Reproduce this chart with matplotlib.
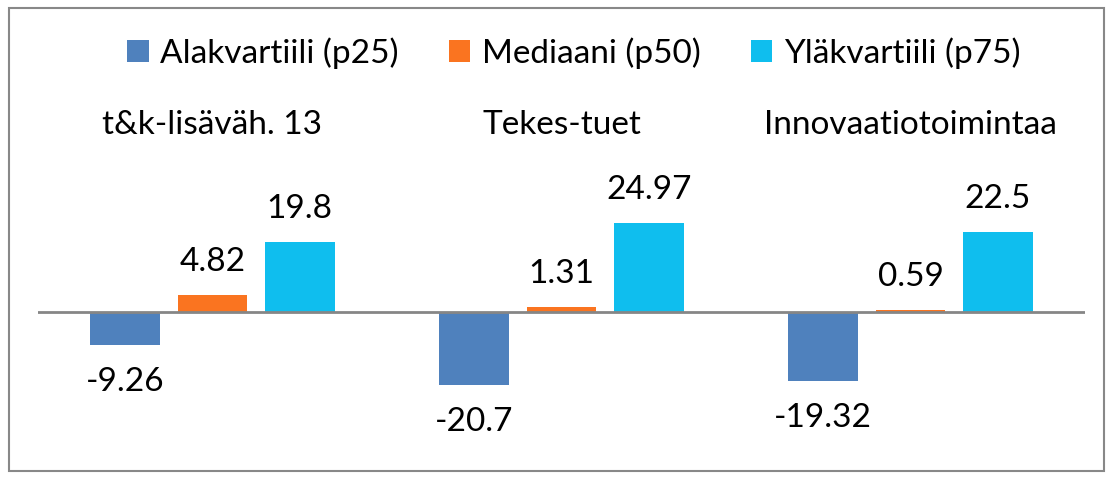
import numpy as np
import matplotlib.pyplot as plt
from matplotlib.patches import Rectangle
import matplotlib.transforms as mtransforms

plt.rcParams['font.family'] = ['Lato', 'DejaVu Sans']

categories = ["t&k-lisäväh. 13", "Tekes-tuet", "Innovaatiotoimintaa"]
series_names = ["Alakvartiili (p25)", "Mediaani (p50)", "Yläkvartiili (p75)"]
p25 = [-9.26, -20.7, -19.32]
p50 = [4.82, 1.31, 0.59]
p75 = [19.8, 24.97, 22.5]
value_labels = [["-9.26", "-20.7", "-19.32"],
                ["4.82", "1.31", "0.59"],
                ["19.8", "24.97", "22.5"]]
colors = ["#4F81BD", "#FA7420", "#0FBEEE"]

fig = plt.figure(figsize=(11.14, 4.8), dpi=100)
# plot area: x 38..1085 px, zero line at ~312 px, 60 units over ~213 px
ax = fig.add_axes([38 / 1114, 1 - 418.5 / 480, 1047 / 1114, 213 / 480])

x = np.arange(len(categories))
width = 0.2
step = 0.25
for i, (vals, col, name) in enumerate(zip([p25, p50, p75], colors, series_names)):
    pos = x + (i - 1) * step
    bars = ax.bar(pos, vals, width, color=col, label=name, zorder=2)
    for b, v, lab in zip(bars, vals, value_labels[i]):
        off = 33 if v >= 0 else -37
        ax.annotate(lab, (b.get_x() + b.get_width() / 2, v),
                    xytext=(0, off), textcoords="offset pixels",
                    ha="center", va="center", fontsize=24, color="black")

ax.axhline(0, color="#868686", lw=2, zorder=3)
ax.set_xlim(-0.5, 2.5)
ax.set_ylim(-30, 30)
ax.axis("off")

# category labels above the plot
trans = mtransforms.blended_transform_factory(ax.transData, fig.transFigure)
for xi, c in zip(x, categories):
    ax.text(xi, 1 - 125 / 480, c, transform=trans, ha="center", va="center",
            fontsize=24, color="black")

fig.legend(loc="center", bbox_to_anchor=(0.515, 1 - 53 / 480), ncol=3, frameon=False,
           fontsize=24, handlelength=0.65, handleheight=0.65, handletextpad=0.35,
           columnspacing=1.5)

fig.patches.append(Rectangle((9 / 1114, 1 - 471 / 480), 1095 / 1114, 463 / 480,
                             transform=fig.transFigure, fill=False,
                             edgecolor="#888888", lw=1.5))

fig.savefig("out.png", dpi=100, facecolor="white")
